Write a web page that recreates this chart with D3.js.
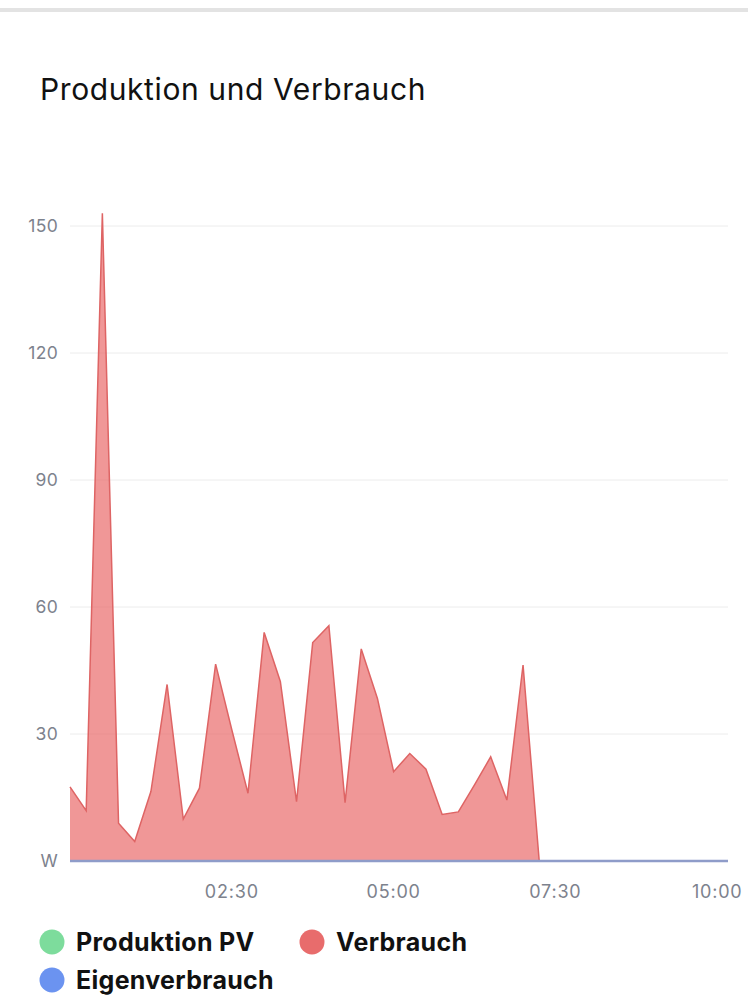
<!DOCTYPE html>
<html>
<head>
<meta charset="utf-8">
<script src="https://cdn.jsdelivr.net/npm/d3@7"></script>
<style>
  html, body { margin: 0; padding: 0; background: #fff; }
  svg { display: block; }
</style>
</head>
<body>
<svg id="chart" width="748" height="1000"></svg>
<script>
// ---- data ----
const times = ["00:00","00:15","00:30","00:45","01:00","01:15","01:30","01:45","02:00","02:15",
  "02:30","02:45","03:00","03:15","03:30","03:45","04:00","04:15","04:30","04:45",
  "05:00","05:15","05:30","05:45","06:00","06:15","06:30","06:45","07:00","07:15",
  "07:30","07:45","08:00","08:15","08:30","08:45","09:00","09:15","09:30","09:45",
  "10:00","10:10"];
const verbrauch = [17.5,11.9,153,8.9,4.6,16.4,41.7,9.9,17.2,46.5,
  31,16,54,42.4,14,51.6,55.6,13.8,50.1,38.4,
  21.1,25.4,21.7,11,11.6,18,24.6,14.4,46.3,0,
  0,0,0,0,0,0,0,0,0,0,
  0,0];
const produktionPV = [0,0,0,0,0,0,0,0,0,0,0,0,0,0,0,0,0,0,0,0,0,0,0,0,0,0,0,0,0,0,0,0,0,0,0,0,0,0,0,0,0,0];
const eigenverbrauch = [0,0,0,0,0,0,0,0,0,0,0,0,0,0,0,0,0,0,0,0,0,0,0,0,0,0,0,0,0,0,0,0,0,0,0,0,0,0,0,0,0,0];
const yTicks = [0,30,60,90,120,150];
const xTicks = ["02:30","05:00","07:30","10:00"];
const title = "Produktion und Verbrauch";
const legendItems = [
  {name:"Produktion PV", color:"#7ddc9c"},
  {name:"Verbrauch", color:"#e86c6c"},
  {name:"Eigenverbrauch", color:"#6b93f0"}
];

(function(){
// ---- layout ----
const svg = d3.select("#chart");
const W = 748;
const plotLeft = 70, plotRight = 728, plotBottom = 861, plotTop = 226;
const parse = s => { const [h,m] = s.split(":").map(Number); return h*60+m; };

const x = d3.scaleLinear().domain([0, parse(times[times.length-1])]).range([plotLeft, plotRight]);
const y = d3.scaleLinear().domain([0, 150]).range([plotBottom, plotTop]);

// top bar
svg.append("rect").attr("x",0).attr("y",8).attr("width",W).attr("height",4).attr("fill","#e3e3e3");

// title
svg.append("text").attr("x",40).attr("y",100)
  .attr("font-family","Inter, 'Noto Sans', sans-serif").attr("font-size",30)
  .attr("letter-spacing",0.6).attr("fill","#111")
  .text(title);

// grid
svg.append("g").selectAll("line").data(yTicks.filter(d=>d>0)).join("line")
  .attr("x1",plotLeft).attr("x2",plotRight).attr("y1",d=>y(d)).attr("y2",d=>y(d))
  .attr("stroke","#ececec").attr("stroke-width",1);

// y axis labels
svg.append("g").selectAll("text").data(yTicks).join("text")
  .attr("x",58).attr("y",d=>y(d)).attr("dy","0.35em").attr("text-anchor","end")
  .attr("font-family","Inter, 'Noto Sans', sans-serif").attr("font-size",17.5)
  .attr("letter-spacing",0.3).attr("fill","#7d828d")
  .text(d => d===0 ? "W" : d);

// x axis labels
svg.append("g").selectAll("text").data(xTicks).join("text")
  .attr("x",d=>x(parse(d))).attr("y",892).attr("dy","0.35em").attr("text-anchor","middle")
  .attr("font-family","Inter, 'Noto Sans', sans-serif").attr("font-size",18)
  .attr("letter-spacing",0.8).attr("fill","#7d828d")
  .text(d=>d);

const pts = arr => times.map((t,i)=>({t:parse(t), v:arr[i]}));

// area for Verbrauch
const area = d3.area().x(d=>x(d.t)).y0(y(0)).y1(d=>y(d.v));
const line = d3.line().x(d=>x(d.t)).y(d=>y(d.v));
svg.append("path").datum(pts(verbrauch)).attr("d",area).attr("fill","rgba(232,96,96,0.65)");
svg.append("path").datum(pts(verbrauch)).attr("d",line).attr("fill","none")
  .attr("stroke","#de6464").attr("stroke-width",1.5).attr("stroke-linejoin","miter");

// Produktion PV and Eigenverbrauch lines (zero)
svg.append("path").datum(pts(produktionPV)).attr("d",line).attr("fill","none")
  .attr("stroke","#7ddc9c").attr("stroke-width",2).attr("opacity",0.6);
svg.append("path").datum(pts(eigenverbrauch)).attr("d",line).attr("fill","none")
  .attr("stroke","#8f9cc9").attr("stroke-width",2.5);

// legend
const legendPos = [{cx:52, cy:942},{cx:312, cy:942},{cx:52, cy:980}];
const lg = svg.append("g").selectAll("g").data(legendItems).join("g")
  .attr("transform",(d,i)=>`translate(${legendPos[i].cx},${legendPos[i].cy})`);
lg.append("circle").attr("r",12.5).attr("fill",d=>d.color);
lg.append("text").attr("x",24).attr("dy","0.36em")
  .attr("font-family","Inter, 'Noto Sans', sans-serif").attr("font-weight","bold")
  .attr("font-size",25).attr("letter-spacing",0.3).attr("fill","#111").text(d=>d.name);
})();
</script>
</body>
</html>
